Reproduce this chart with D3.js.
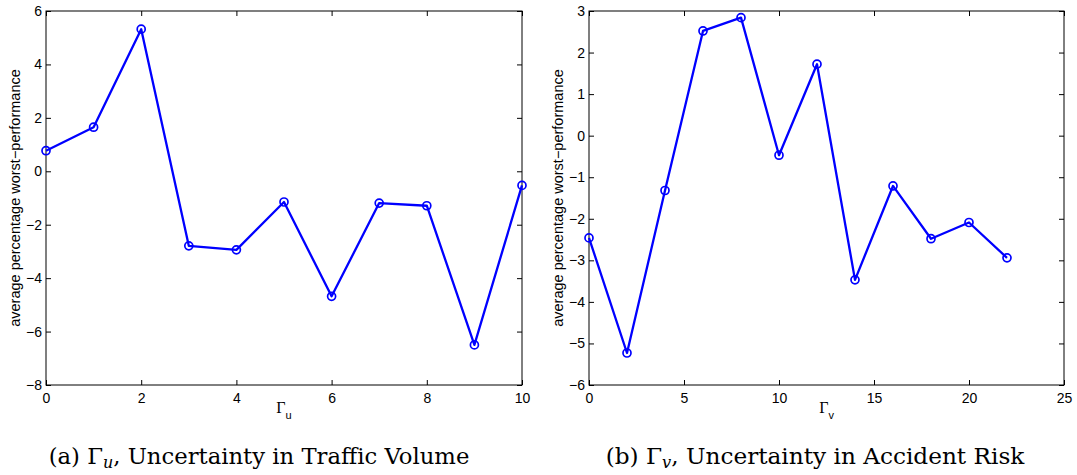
<!DOCTYPE html>
<html>
<head>
<meta charset="utf-8">
<script src="https://cdn.jsdelivr.net/npm/d3@7"></script>
<style>
  body { margin: 0; background: #fff; }
  svg text { font-family: "Liberation Sans", Arial, sans-serif; }
</style>
</head>
<body>
<div id="chart"></div>
<script>
// left panel: Gamma_u
var gammaU = [0, 1, 2, 3, 4, 5, 6, 7, 8, 9, 10];
var perfU = [0.77, 1.65, 5.32, -2.79, -2.94, -1.15, -4.68, -1.19, -1.29, -6.5, -0.53];
var xTicksU = [0, 2, 4, 6, 8, 10];
var yTicksU = [-8, -6, -4, -2, 0, 2, 4, 6];

// right panel: Gamma_v
var gammaV = [0, 2, 4, 6, 8, 10, 12, 14, 16, 18, 20, 22];
var perfV = [-2.46, -5.23, -1.32, 2.52, 2.84, -0.47, 1.72, -3.47, -1.21, -2.48, -2.09, -2.94];
var xTicksV = [0, 5, 10, 15, 20, 25];
var yTicksV = [-6, -5, -4, -3, -2, -1, 0, 1, 2, 3];

var width = 1077, height = 475;

var svg = d3.select("#chart")
  .append("svg")
    .attr("width", width)
    .attr("height", height);

function drawPanel(opts) {
  var x = d3.scaleLinear().domain(opts.xDomain).range([opts.left, opts.right]);
  var y = d3.scaleLinear().domain(opts.yDomain).range([opts.bottom, opts.top]);
  var g = svg.append("g");

  // ticks on all four sides, pointing inward
  g.append("g")
    .attr("transform", "translate(0," + opts.bottom + ")")
    .call(d3.axisBottom(x).tickValues(opts.xTicks).tickSizeInner(-5).tickSizeOuter(0).tickPadding(8))
    .call(function(a) { a.select(".domain").remove(); });
  g.append("g")
    .attr("transform", "translate(0," + opts.top + ")")
    .call(d3.axisTop(x).tickValues(opts.xTicks).tickSizeInner(-5).tickSizeOuter(0).tickFormat(""))
    .call(function(a) { a.select(".domain").remove(); });
  g.append("g")
    .attr("transform", "translate(" + opts.left + ",0)")
    .call(d3.axisLeft(y).tickValues(opts.yTicks).tickSizeInner(-5).tickSizeOuter(0).tickPadding(4))
    .call(function(a) { a.select(".domain").remove(); });
  g.append("g")
    .attr("transform", "translate(" + opts.right + ",0)")
    .call(d3.axisRight(y).tickValues(opts.yTicks).tickSizeInner(-5).tickSizeOuter(0).tickFormat(""))
    .call(function(a) { a.select(".domain").remove(); });

  g.selectAll(".tick text")
    .attr("font-size", 14)
    .attr("font-family", "Liberation Sans, Arial, sans-serif")
    .attr("fill", "#000");
  g.selectAll(".tick line").attr("stroke", "#000");

  // box
  g.append("rect")
    .attr("x", opts.left)
    .attr("y", opts.top)
    .attr("width", opts.right - opts.left)
    .attr("height", opts.bottom - opts.top)
    .attr("fill", "none")
    .attr("stroke", "#000")
    .attr("stroke-width", 1);

  var pts = opts.xs.map(function(d, i) { return [d, opts.ys[i]]; });

  var line = d3.line()
    .x(function(d) { return x(d[0]); })
    .y(function(d) { return y(d[1]); });

  g.append("path")
    .datum(pts)
    .attr("d", line)
    .attr("fill", "none")
    .attr("stroke", "#0000ff")
    .attr("stroke-width", 2.3)
    .attr("stroke-linejoin", "round");

  g.selectAll("circle.m")
    .data(pts)
    .enter()
    .append("circle")
      .attr("class", "m")
      .attr("cx", function(d) { return x(d[0]); })
      .attr("cy", function(d) { return y(d[1]); })
      .attr("r", 4)
      .attr("fill", "none")
      .attr("stroke", "#0000ff")
      .attr("stroke-width", 1.7);

  // y label
  g.append("text")
    .attr("transform", "translate(" + (opts.left - 26) + "," + ((opts.top + opts.bottom) / 2) + ") rotate(-90)")
    .attr("text-anchor", "middle")
    .attr("font-size", 14.5)
    .text("average percentage worst\u2212performance");

  // x label: Gamma with subscript
  var cx = (opts.left + opts.right) / 2;
  var xl = g.append("text")
    .attr("x", cx)
    .attr("y", opts.bottom + 28)
    .attr("text-anchor", "middle");
  xl.append("tspan")
    .style("font-family", "Liberation Serif, serif")
    .attr("font-size", 16)
    .text("\u0393");
  xl.append("tspan")
    .attr("font-size", 11)
    .attr("dy", 6)
    .text(opts.sub);

  // caption
  var cap = svg.append("text")
    .attr("x", opts.capX)
    .attr("y", 464)
    .attr("text-anchor", "middle")
    .attr("font-size", 21)
    .style("font-family", "DejaVu Serif, serif");
  cap.append("tspan").text(opts.capPre + " \u0393");
  cap.append("tspan")
    .attr("font-style", "italic")
    .attr("font-size", "0.7em")
    .attr("dy", 4)
    .text(opts.sub);
  cap.append("tspan")
    .attr("dy", -4)
    .text(", " + opts.capText);

  // fit the caption width to the printed caption
  var w = cap.node().getComputedTextLength();
  cap.attr("font-size", 21 * opts.capW / w);
}

drawPanel({
  left: 46, right: 522, top: 11, bottom: 385,
  xDomain: [0, 10], yDomain: [-8, 6],
  xTicks: xTicksU, yTicks: yTicksU,
  xs: gammaU, ys: perfU,
  sub: "u",
  capX: 259, capW: 421, capPre: "(a)", capText: "Uncertainty in Traffic Volume"
});

drawPanel({
  left: 589, right: 1064, top: 11, bottom: 385,
  xDomain: [0, 25], yDomain: [-6, 3],
  xTicks: xTicksV, yTicks: yTicksV,
  xs: gammaV, ys: perfV,
  sub: "v",
  capX: 815, capW: 419, capPre: "(b)", capText: "Uncertainty in Accident Risk"
});
</script>
</body>
</html>
